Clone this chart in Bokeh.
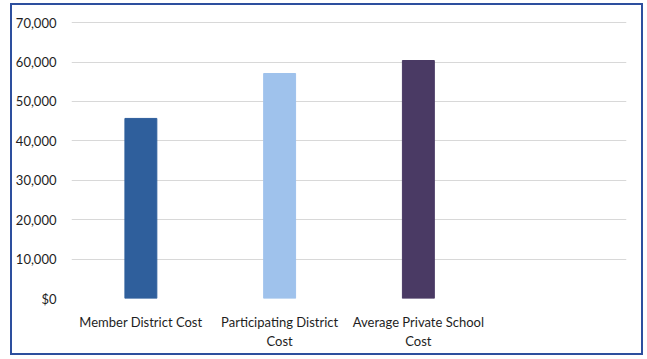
from bokeh.plotting import figure
from bokeh.models import ColumnDataSource, FixedTicker, Range1d
from bokeh.embed import file_html
from bokeh.resources import INLINE

categories = ["Member District Cost", "Participating District\nCost", "Average Private School\nCost"]
costs = [45700, 57100, 60400]
colors = ["#2f5f9c", "#9fc2ec", "#4a3a64"]
y_ticks = [0, 10000, 20000, 30000, 40000, 50000, 60000, 70000]
y_labels = ["$0", "10,000", "20,000", "30,000", "40,000", "50,000", "60,000", "70,000"]

xs = [i + 1 for i in range(len(categories))]
src = ColumnDataSource(dict(x=xs, top=costs, color=colors))

p = figure(width=633, height=352, output_backend="svg", toolbar_location=None,
           x_range=Range1d(0.5, 4.5), y_range=Range1d(0, 70300),
           min_border_left=56, min_border_right=19, min_border_top=16, min_border_bottom=59)
p.styles = {"border": "2px solid #2d4f9e", "margin": "3px 0px 0px 10px"}
p.outline_line_color = None
p.background_fill_color = "white"
p.border_fill_color = "white"

p.vbar(x="x", top="top", width=0.23, color="color", source=src)

p.yaxis.ticker = FixedTicker(ticks=y_ticks)
p.yaxis.major_label_overrides = {t: l for t, l in zip(y_ticks, y_labels)}
p.xaxis.ticker = FixedTicker(ticks=xs)
p.xaxis.major_label_overrides = {x: c for x, c in zip(xs, categories)}

for ax in (p.xaxis, p.yaxis):
    ax.axis_line_color = None
    ax.major_tick_line_color = None
    ax.minor_tick_line_color = None
    ax.major_label_text_font = "Lato"
    ax.major_label_text_font_size = "13px"
    ax.major_label_text_color = "#1e1e1e"
p.yaxis.major_label_standoff = 9
p.xaxis.major_label_standoff = 9

p.xgrid.grid_line_color = None
p.ygrid.grid_line_color = "#d8d8d8"
p.ygrid.grid_line_width = 1

open("out.html", "w").write(file_html(p, INLINE))
